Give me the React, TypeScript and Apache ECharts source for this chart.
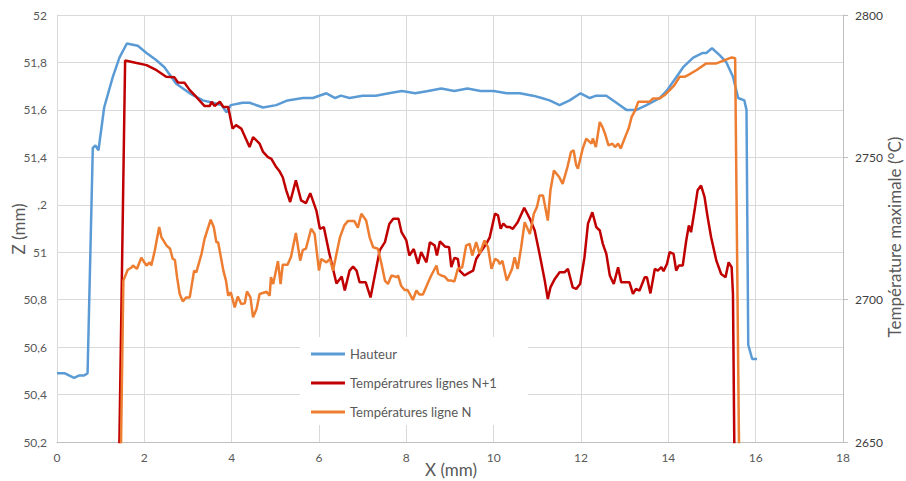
import React, { useEffect, useRef } from "react";
import * as echarts from "echarts";

const seriesNames = ["Hauteur", "Températrures lignes N+1", "Températures ligne N"];
const xTicks = [0, 2, 4, 6, 8, 10, 12, 14, 16, 18];
const zTicks = [50.2, 50.4, 50.6, 50.8, 51, 51.2, 51.4, 51.6, 51.8, 52];
const tTicks = [2650, 2700, 2750, 2800];

const xHauteur = [0, 0.17, 0.39, 0.5, 0.62, 0.7, 0.82, 0.88, 0.95, 1.08, 1.28, 1.43, 1.6, 1.85, 2.05, 2.27, 2.46, 2.73, 3.04, 3.34, 3.57, 3.77, 3.88, 3.98, 4.25, 4.41, 4.72, 5.02, 5.28, 5.63, 5.86, 6.17, 6.37, 6.5, 6.7, 7.0, 7.3, 7.6, 7.9, 8.2, 8.5, 8.8, 9.1, 9.4, 9.7, 10.0, 10.3, 10.6, 10.9, 11.1, 11.28, 11.51, 11.74, 11.99, 12.2, 12.35, 12.58, 12.81, 13.04, 13.27, 13.5, 13.8, 13.96, 14.19, 14.34, 14.57, 14.79, 14.87, 15.0, 15.18, 15.33, 15.48, 15.6, 15.74, 15.79, 15.83, 15.92, 16.03];
const zHauteur = [50.49, 50.49, 50.47, 50.48, 50.48, 50.49, 51.44, 51.45, 51.43, 51.61, 51.74, 51.82, 51.88, 51.87, 51.84, 51.81, 51.78, 51.71, 51.67, 51.64, 51.63, 51.62, 51.59, 51.62, 51.63, 51.63, 51.61, 51.62, 51.64, 51.65, 51.65, 51.67, 51.65, 51.66, 51.65, 51.66, 51.66, 51.67, 51.68, 51.67, 51.68, 51.69, 51.68, 51.69, 51.68, 51.68, 51.67, 51.67, 51.66, 51.65, 51.64, 51.62, 51.64, 51.67, 51.65, 51.66, 51.66, 51.63, 51.6, 51.6, 51.62, 51.65, 51.68, 51.74, 51.78, 51.82, 51.84, 51.84, 51.86, 51.83, 51.8, 51.74, 51.65, 51.64, 51.6, 50.61, 50.55, 50.55];

const xLigneN1 = [1.38, 1.56, 1.8, 2.05, 2.28, 2.5, 2.69, 2.77, 2.92, 3.04, 3.19, 3.38, 3.5, 3.54, 3.61, 3.73, 3.81, 3.92, 4.02, 4.1, 4.22, 4.41, 4.49, 4.64, 4.72, 4.83, 4.91, 5.02, 5.1, 5.17, 5.25, 5.34, 5.47, 5.59, 5.7, 5.8, 5.94, 6.02, 6.11, 6.23, 6.4, 6.52, 6.59, 6.7, 6.78, 6.86, 6.93, 7.07, 7.18, 7.3, 7.39, 7.51, 7.61, 7.7, 7.82, 7.89, 8.0, 8.07, 8.17, 8.27, 8.34, 8.46, 8.54, 8.65, 8.7, 8.77, 8.88, 8.98, 9.03, 9.1, 9.18, 9.22, 9.33, 9.45, 9.53, 9.6, 9.72, 9.83, 9.91, 10.03, 10.1, 10.16, 10.22, 10.3, 10.37, 10.44, 10.55, 10.7, 10.83, 10.94, 11.05, 11.17, 11.24, 11.3, 11.4, 11.51, 11.62, 11.7, 11.81, 11.89, 11.98, 12.08, 12.16, 12.26, 12.35, 12.43, 12.5, 12.58, 12.66, 12.75, 12.85, 12.92, 13.11, 13.19, 13.26, 13.34, 13.46, 13.51, 13.59, 13.69, 13.76, 13.84, 13.89, 13.97, 14.03, 14.12, 14.18, 14.24, 14.33, 14.41, 14.47, 14.52, 14.6, 14.67, 14.75, 14.83, 14.9, 14.98, 15.1, 15.21, 15.31, 15.38, 15.45, 15.48, 15.54];
const tLigneN1 = [2600, 2784, 2783.2, 2782.4, 2780.6, 2778.3, 2778.1, 2776.3, 2776.2, 2773.6, 2771.2, 2768, 2768, 2769.5, 2768, 2769.5, 2767.7, 2767.7, 2760.1, 2761.3, 2760.1, 2753.6, 2757.1, 2754.8, 2751.9, 2750.1, 2749.5, 2746.6, 2745, 2743, 2738.4, 2734.3, 2741.9, 2734.9, 2733.9, 2737.4, 2731.3, 2724.9, 2725.5, 2716.7, 2705.7, 2708.1, 2703.2, 2710.2, 2711.6, 2710.2, 2706.1, 2706.1, 2700.8, 2710.2, 2717.3, 2720.2, 2726.6, 2728.4, 2728.4, 2723.7, 2720.8, 2715.5, 2717.8, 2712.6, 2716.7, 2713.1, 2720.2, 2719, 2715.5, 2720.5, 2718.7, 2718.4, 2711.4, 2714.7, 2714.3, 2710.2, 2708.5, 2709.6, 2710.2, 2714.3, 2717.2, 2719.6, 2721.9, 2730.2, 2729.6, 2724.9, 2726.7, 2725.5, 2725.5, 2724.9, 2727.2, 2732.3, 2728.4, 2724.3, 2716.1, 2706.7, 2700.2, 2704.3, 2707.3, 2709.6, 2709.6, 2710.8, 2704.3, 2703.8, 2705.5, 2714.9, 2726.7, 2730.7, 2725.5, 2724.3, 2719.6, 2716.1, 2708.5, 2705.5, 2711.4, 2706.1, 2706.1, 2702, 2703.8, 2703.2, 2707.9, 2707.9, 2702.2, 2710.8, 2710.2, 2711.4, 2710, 2712.6, 2716.7, 2716.1, 2710.2, 2712, 2712, 2720.8, 2726.1, 2723.7, 2731.3, 2738.4, 2740.1, 2736, 2729, 2721.9, 2713.7, 2709, 2707.9, 2713.1, 2711.4, 2702, 2600];

const xLigneN = [1.42, 1.52, 1.62, 1.7, 1.74, 1.83, 1.93, 2.05, 2.12, 2.16, 2.24, 2.34, 2.39, 2.51, 2.59, 2.65, 2.7, 2.75, 2.81, 2.88, 2.96, 3.04, 3.14, 3.19, 3.31, 3.38, 3.52, 3.59, 3.65, 3.69, 3.81, 3.87, 3.92, 3.98, 4.07, 4.14, 4.22, 4.3, 4.35, 4.43, 4.49, 4.57, 4.64, 4.8, 4.87, 4.9, 4.95, 5.06, 5.12, 5.17, 5.28, 5.36, 5.47, 5.57, 5.63, 5.7, 5.82, 5.9, 6.0, 6.05, 6.17, 6.25, 6.32, 6.48, 6.58, 6.66, 6.81, 6.89, 6.97, 7.08, 7.16, 7.24, 7.35, 7.43, 7.51, 7.58, 7.66, 7.78, 7.81, 7.88, 7.96, 8.03, 8.15, 8.23, 8.3, 8.38, 8.5, 8.57, 8.69, 8.73, 8.8, 8.88, 8.96, 9.03, 9.1, 9.18, 9.28, 9.37, 9.45, 9.51, 9.6, 9.68, 9.79, 9.87, 9.95, 10.03, 10.1, 10.14, 10.2, 10.3, 10.37, 10.42, 10.48, 10.55, 10.63, 10.71, 10.83, 10.92, 10.99, 11.05, 11.13, 11.21, 11.24, 11.3, 11.38, 11.5, 11.58, 11.69, 11.77, 11.83, 11.89, 11.93, 12.04, 12.12, 12.24, 12.27, 12.34, 12.43, 12.49, 12.55, 12.63, 12.72, 12.78, 12.85, 12.91, 13.01, 13.09, 13.16, 13.24, 13.31, 13.57, 13.65, 13.8, 13.91, 14.03, 14.14, 14.26, 14.37, 14.45, 14.64, 14.87, 15.1, 15.25, 15.45, 15.53, 15.65];
const tLigneN = [2600, 2706.7, 2710.5, 2711.2, 2712, 2710.8, 2714.7, 2712, 2713.1, 2712, 2717.3, 2725.5, 2722, 2719, 2717.9, 2714.3, 2714, 2707.9, 2702, 2699.4, 2700.8, 2700.8, 2710.2, 2709.6, 2716.1, 2721.4, 2728.1, 2725.5, 2720.2, 2720.2, 2710.2, 2706.7, 2701.4, 2702.6, 2697.3, 2701.1, 2698.5, 2698.7, 2702.9, 2700.8, 2693.8, 2696.7, 2702, 2702.8, 2701.4, 2707.9, 2705.5, 2713.5, 2705.5, 2712.3, 2712.3, 2715.1, 2723.4, 2713.7, 2717.5, 2717.9, 2724.9, 2723.1, 2710.2, 2714.3, 2713.1, 2714.3, 2710.2, 2721.9, 2726.1, 2727.6, 2727.6, 2725.3, 2730.2, 2727.8, 2721.9, 2718.4, 2717.9, 2712.6, 2706.7, 2705.5, 2708.5, 2707.9, 2708.5, 2704.9, 2703.4, 2703.4, 2699.9, 2703.2, 2701.8, 2701.8, 2706.1, 2708.5, 2712, 2709.1, 2708.5, 2708.1, 2706.7, 2706.7, 2706.4, 2710.8, 2711.4, 2719, 2719.6, 2715.5, 2720.2, 2716.1, 2720.8, 2718.4, 2710.8, 2714.3, 2713.7, 2712.5, 2713.7, 2706.7, 2709, 2710.8, 2714.9, 2710.8, 2718.4, 2727.2, 2723.1, 2730.2, 2732.5, 2736.6, 2736.6, 2730.2, 2727.8, 2738.4, 2745.4, 2743.1, 2740.7, 2746.6, 2751.9, 2752.5, 2747.2, 2746, 2753.1, 2756.6, 2754.8, 2756.6, 2753.6, 2762.4, 2760.7, 2758.3, 2754.2, 2754.8, 2753.6, 2754.8, 2753.1, 2757.1, 2760.1, 2764.2, 2766.5, 2769.5, 2769.5, 2770.7, 2770.7, 2771.8, 2773.6, 2775.4, 2778.3, 2778.3, 2778.9, 2780.6, 2783, 2783, 2783.9, 2785.1, 2784.8, 2600];

const FONT = "Lato, 'Open Sans', sans-serif";
const GRAY = "#595959";
const COLORS = ["#5B9BD5", "#C00000", "#ED7D31"];

function pairs(xs: number[], ys: number[]) {
  return xs.map((x, i) => [x, ys[i]]);
}

function fmtZ(v: number) {
  const r = Math.round(v * 10) / 10;
  if (Math.abs(r - 51.2) < 1e-6) return ",2";
  const s = Number.isInteger(r) ? String(r) : r.toFixed(1);
  return s.replace(".", ",");
}

export default function App() {
  const ref = useRef<HTMLDivElement>(null);
  useEffect(() => {
    if (!ref.current) return;
    const chart = echarts.init(ref.current, undefined, { renderer: "svg" });
    chart.setOption({
      animation: false,
      backgroundColor: "#ffffff",
      grid: { left: 57, right: 63, top: 15, bottom: 39, containLabel: false },
      legend: {
        orient: "vertical",
        left: 300,
        top: 337,
        padding: [10, 31, 6, 11],
        itemGap: 15,
        itemWidth: 34,
        itemHeight: 3,
        icon: "rect",
        backgroundColor: "#ffffff",
        textStyle: { color: GRAY, fontSize: 13, lineHeight: 14, fontFamily: FONT },
        data: seriesNames.map((n, i) => ({ name: n, icon: "rect", itemStyle: { color: COLORS[i] } })),
      },
      xAxis: {
        type: "value",
        min: xTicks[0],
        max: xTicks[xTicks.length - 1],
        interval: 2,
        axisLine: { show: true, lineStyle: { color: "#BFBFBF", width: 1 } },
        axisTick: { show: false },
        splitLine: { show: true, lineStyle: { color: "#D9D9D9", width: 1 } },
        axisLabel: { color: GRAY, fontSize: 12, fontFamily: FONT, margin: 9 },
      },
      yAxis: [
        {
          type: "value",
          min: zTicks[0],
          max: zTicks[zTicks.length - 1],
          interval: 0.2,
          axisLine: { show: true, lineStyle: { color: "#D9D9D9", width: 1 } },
          axisTick: { show: false },
          splitLine: { show: true, lineStyle: { color: "#D9D9D9", width: 1 } },
          axisLabel: { color: GRAY, fontSize: 12, fontFamily: FONT, margin: 10, formatter: fmtZ },
        },
        {
          type: "value",
          position: "right",
          min: tTicks[0],
          max: tTicks[tTicks.length - 1],
          interval: 50,
          axisLine: { show: true, lineStyle: { color: "#BFBFBF", width: 1 } },
          axisTick: { show: true, length: 5, lineStyle: { color: "#BFBFBF" } },
          splitLine: { show: false },
          axisLabel: { color: "#404040", fontSize: 12, fontFamily: FONT, margin: 12, formatter: (v: number) => String(v) },
        },
      ],
      graphic: [
        {
          type: "text",
          x: 18,
          y: 229,
          rotation: Math.PI / 2,
          style: { text: "Z (mm)", fill: GRAY, fontSize: 17, fontFamily: FONT, align: "center", verticalAlign: "middle" },
        },
        {
          type: "text",
          x: 894,
          y: 237,
          rotation: Math.PI / 2,
          style: { text: "Température maximale (°C)", fill: GRAY, fontSize: 17, fontFamily: FONT, align: "center", verticalAlign: "middle" },
        },
        {
          type: "text",
          x: 451,
          y: 469,
          style: { text: "X (mm)", fill: GRAY, fontSize: 17, fontFamily: FONT, align: "center", verticalAlign: "middle" },
        },
      ],
      series: [
        {
          name: seriesNames[0],
          type: "line",
          yAxisIndex: 0,
          symbol: "none",
          clip: true,
          lineStyle: { color: COLORS[0], width: 2.5 },
          itemStyle: { color: COLORS[0] },
          data: pairs(xHauteur, zHauteur),
        },
        {
          name: seriesNames[1],
          type: "line",
          yAxisIndex: 1,
          symbol: "none",
          clip: true,
          lineStyle: { color: COLORS[1], width: 2.5 },
          itemStyle: { color: COLORS[1] },
          data: pairs(xLigneN1, tLigneN1),
        },
        {
          name: seriesNames[2],
          type: "line",
          yAxisIndex: 1,
          symbol: "none",
          clip: true,
          lineStyle: { color: COLORS[2], width: 2.5 },
          itemStyle: { color: COLORS[2] },
          data: pairs(xLigneN, tLigneN),
        },
      ],
    });
    return () => chart.dispose();
  }, []);
  return <div ref={ref} style={{ width: 906, height: 481, position: "absolute", left: 0, top: 0 }} />;
}
